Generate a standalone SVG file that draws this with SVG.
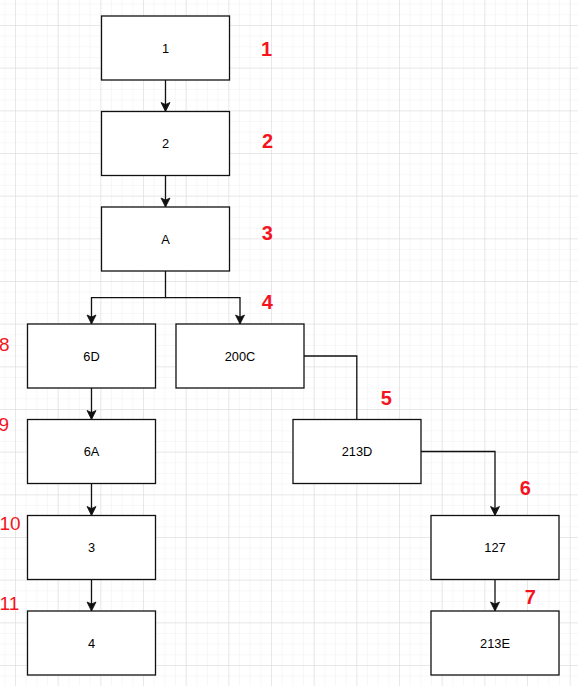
<svg xmlns="http://www.w3.org/2000/svg" width="578" height="686" viewBox="0 0 578 686">
<style>
.box{fill:#ffffff;stroke:#111111;stroke-width:1.3}
.lbl{font-family:"Liberation Sans",Arial,sans-serif;font-size:12.8px;fill:#000000;text-anchor:middle}
.num{font-family:"Liberation Sans",Arial,sans-serif;font-size:20px;font-weight:bold;fill:#f5141e;text-anchor:middle}
.side{font-family:"Liberation Sans",Arial,sans-serif;font-size:19px;fill:#f5141e}
.edge{fill:none;stroke:#111111;stroke-width:1.3}
</style>
<defs>
<pattern id="minor" patternUnits="userSpaceOnUse" x="15" y="25" width="10.667" height="10.667">
<path d="M0,0 H10.667 M0,0 V10.667" fill="none" stroke="#efefef" stroke-width="1"/>
</pattern>
<pattern id="major" patternUnits="userSpaceOnUse" x="15" y="25" width="42.667" height="42.667">
<path d="M0,0 H42.667 M0,0 V42.667" fill="none" stroke="#d9d9d9" stroke-width="1"/>
</pattern>
<marker id="arr" markerUnits="userSpaceOnUse" markerWidth="12" markerHeight="12" viewBox="-10 -6 12 12" refX="0" refY="0" orient="auto">
<path d="M0,0 L-9,-4.5 L-7,0 L-9,4.5 Z" fill="#111111" stroke="#111111" stroke-width="0.8"/>
</marker>
</defs>
<rect width="578" height="686" fill="#ffffff"/>
<rect width="578" height="686" fill="url(#minor)"/>
<rect width="578" height="686" fill="url(#major)"/>

<g id="connectors">
<path class="edge" d="M165.5,79.7 V111.5" marker-end="url(#arr)"/>
<path class="edge" d="M165.5,175.5 V207" marker-end="url(#arr)"/>
<path class="edge" d="M165.5,271 V297.7 H91.5 V324" marker-end="url(#arr)"/>
<path class="edge" d="M165.5,297.7 H240 V324" marker-end="url(#arr)"/>
<path class="edge" d="M304,356 H356.8 V419.5"/>
<path class="edge" d="M421,451.5 H495 V515.5" marker-end="url(#arr)"/>
<path class="edge" d="M495,579.5 V611" marker-end="url(#arr)"/>
<path class="edge" d="M91.5,388 V419.5" marker-end="url(#arr)"/>
<path class="edge" d="M91.5,483.5 V515.5" marker-end="url(#arr)"/>
<path class="edge" d="M91.5,579.5 V611" marker-end="url(#arr)"/>
</g>

<g id="n1"><rect class="box" x="101.5" y="16" width="128" height="64"/><text class="lbl" x="165.5" y="52.6">1</text></g>
<g id="n2"><rect class="box" x="101.5" y="111.5" width="128" height="64"/><text class="lbl" x="165.5" y="148.1">2</text></g>
<g id="nA"><rect class="box" x="101.5" y="207" width="128" height="64"/><text class="lbl" x="165.5" y="243.6">A</text></g>
<g id="n6D"><rect class="box" x="27.5" y="324" width="128" height="64"/><text class="lbl" x="91.5" y="360.6">6D</text></g>
<g id="n200C"><rect class="box" x="176" y="324" width="128" height="64"/><text class="lbl" x="240" y="360.6">200C</text></g>
<g id="n6A"><rect class="box" x="27.5" y="419.5" width="128" height="64"/><text class="lbl" x="91.5" y="456.1">6A</text></g>
<g id="n213D"><rect class="box" x="293" y="419.5" width="128" height="64"/><text class="lbl" x="357" y="456.1">213D</text></g>
<g id="n3"><rect class="box" x="27.5" y="515.5" width="128" height="64"/><text class="lbl" x="91.5" y="552.1">3</text></g>
<g id="n127"><rect class="box" x="431" y="515.5" width="128" height="64"/><text class="lbl" x="495" y="552.1">127</text></g>
<g id="n4"><rect class="box" x="27.5" y="611" width="128" height="64"/><text class="lbl" x="91.5" y="647.6">4</text></g>
<g id="n213E"><rect class="box" x="431" y="611" width="128" height="64"/><text class="lbl" x="495" y="647.6">213E</text></g>

<g id="numbers">
<text class="num" x="266.5" y="55.7">1</text>
<text class="num" x="267.5" y="148.3">2</text>
<text class="num" x="267.2" y="240">3</text>
<text class="num" x="267.2" y="309.3">4</text>
<text class="num" x="386.3" y="405">5</text>
<text class="num" x="525.3" y="495">6</text>
<text class="num" x="530.3" y="604">7</text>
<text class="side" x="-1" y="351">8</text>
<text class="side" x="-1.5" y="430.5">9</text>
<text class="side" x="-0.5" y="530">10</text>
<text class="side" x="-0.5" y="610">11</text>
</g>
</svg>
